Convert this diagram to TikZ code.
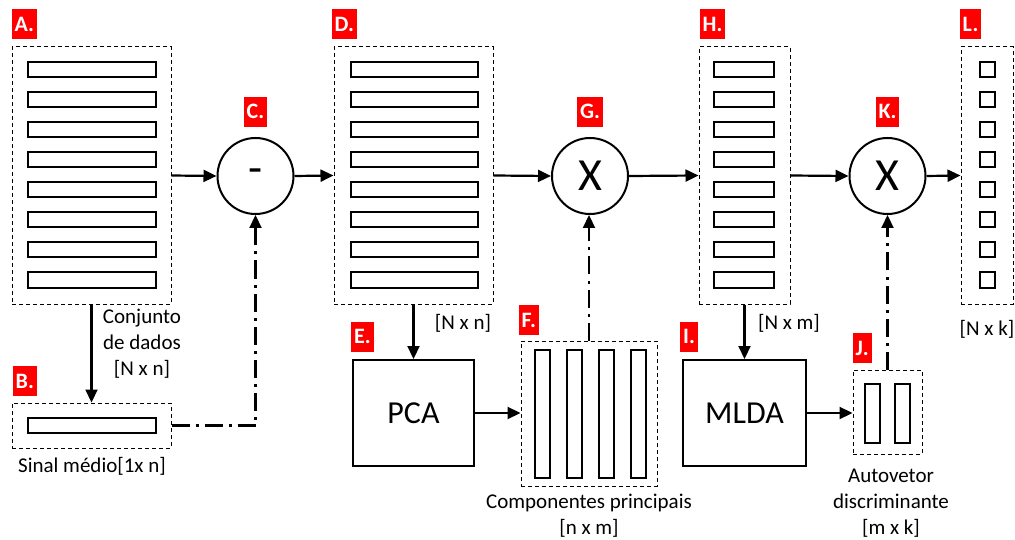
\documentclass[tikz,border=0pt]{standalone}
\usepackage{fontspec}
\setmainfont{Carlito}
\usetikzlibrary{positioning,arrows.meta}

\begin{document}
\begin{tikzpicture}[
x=1pt,y=-1pt,
tag/.style={
  fill=red,
  text=white,
  font=\fontsize{22}{22}\selectfont\bfseries,
  inner xsep=3pt,
  inner ysep=0pt,
  minimum height=30pt
},
frame/.style={
  draw,
  line width=1pt,
  dash pattern=on 4pt off 3pt
},
bar/.style={
  draw,
  line width=2pt,
  inner sep=0pt
},
op/.style={
  draw,
  circle,
  line width=2pt,
  minimum size=76pt,
  inner sep=0pt,
  font=\fontsize{46}{46}\selectfont
},
proc/.style={
  draw,
  line width=2pt,
  minimum height=106pt,
  font=\fontsize{32}{32}\selectfont
},
note/.style={
  align=center,
  font=\fontsize{21}{26}\selectfont
},
flow/.style={
  line width=2.2pt,
  -{Triangle[length=13pt,width=12pt]}
},
ctrl/.style={
  flow,
  dash pattern=on 18pt off 6pt on 3pt off 6pt
}
]
\useasboundingbox (0,0) rectangle (1015,540);

% data matrices
\node[frame,minimum width=159pt,minimum height=257pt] (A) at (91.5,175.5) {};
\node[frame,minimum width=159pt,minimum height=257pt] (D) at (413.5,175.5) {};
\node[frame,minimum width=91pt,minimum height=257pt] (H) at (744.5,175.5) {};
\node[frame,minimum width=52pt,minimum height=257pt] (L) at (987,175.5) {};
\node[frame,minimum width=159pt,minimum height=45pt] (B) at (91.5,425.5) {};
\node[frame,minimum width=136pt,minimum height=145pt] (F) at (589,413.5) {};
\node[frame,minimum width=69pt,minimum height=84pt] (J) at (887.5,412) {};

\foreach \i in {1,...,8} {
  \node[bar,minimum width=128pt,minimum height=15pt] (a\i) at (92,40+30*\i) {};
  \node[bar,minimum width=127pt,minimum height=15pt] (d\i) at (414.5,40+30*\i) {};
  \node[bar,minimum width=60pt,minimum height=15pt] (h\i) at (744,40+30*\i) {};
  \node[bar,minimum size=15pt] (l\i) at (987,40+30*\i) {};
}
\node[bar,minimum width=128pt,minimum height=15pt] (b1) at (92,425.5) {};
\foreach \x [count=\i] in {542.5,574,606.5,638.5} {
  \node[bar,minimum width=15pt,minimum height=128pt] (f\i) at (\x,414) {};
}
\foreach \x [count=\i] in {872.5,902} {
  \node[bar,minimum width=15pt,minimum height=59pt] (j\i) at (\x,413.5) {};
}

% operations
\node[op] (C) at (255.5,176) {-};
\node[op] (G) at (590,176) {X};
\node[op] (K) at (887.5,176) {X};
\node[proc,minimum width=121pt] (E) at (413.5,413) {PCA};
\node[proc,minimum width=123pt] (I) at (744.5,413) {MLDA};

% tags
\node[tag,above right=7pt and 0pt of A.north west] (tagA) {A.};
\node[tag,above right=7pt and -2pt of D.north west] (tagD) {D.};
\node[tag,above right=7pt and 1pt of H.north west] (tagH) {H.};
\node[tag,above right=7pt and -1pt of L.north west] (tagL) {L.};
\node[tag,above=10pt of C] (tagC) {C.};
\node[tag,above=10pt of G] (tagG) {G.};
\node[tag,above=10pt of K] (tagK) {K.};
\node[tag,above right=6pt and 1pt of B.north west] (tagB) {B.};
\node[tag,above right=7pt and -1pt of E.north west] (tagE) {E.};
\node[tag,above right=5pt and -2pt of F.north west] (tagF) {F.};
\node[tag,above right=7pt and -2pt of I.north west] (tagI) {I.};
\node[tag,above right=6pt and 0pt of J.north west] (tagJ) {J.};

% notes
\node[note] (nA) at (142,344) {Conjunto\\de dados\\{[N x n]}};
\node[note] (nB) at (92,466) {Sinal médio[1x n]};
\node[note] (nD) at (463,323) {[N x n]};
\node[note] (nH) at (789,323) {[N x m]};
\node[note] (nL) at (987,329) {[N x k]};
\node[note] (nF) at (589,516) {Componentes principais\\{[n x m]}};
\node[note] (nJ) at (891,503) {Autovetor\\discriminante\\{[m x k]}};

% connectors
\draw[flow] (A.east) -- (C.west);
\draw[flow] (C.east) -- (D.west);
\draw[flow] (D.east) -- (G.west);
\draw[flow] (G.east) -- (H.west);
\draw[flow] (H.east) -- (K.west);
\draw[flow] (K.east) -- (L.west);
\draw[flow] (A.south) -- (B.north);
\draw[flow] (D.south) -- (E.north);
\draw[flow] (H.south) -- (I.north);
\draw[flow] (E.east) -- (E.east -| F.west);
\draw[flow] (I.east) -- (I.east -| J.west);
\draw[ctrl] (B.east) -| (C.south);
\draw[ctrl] (F.north) -- (F.north |- G.south);
\draw[ctrl] (J.north) -- (K.south);

\end{tikzpicture}
\end{document}
